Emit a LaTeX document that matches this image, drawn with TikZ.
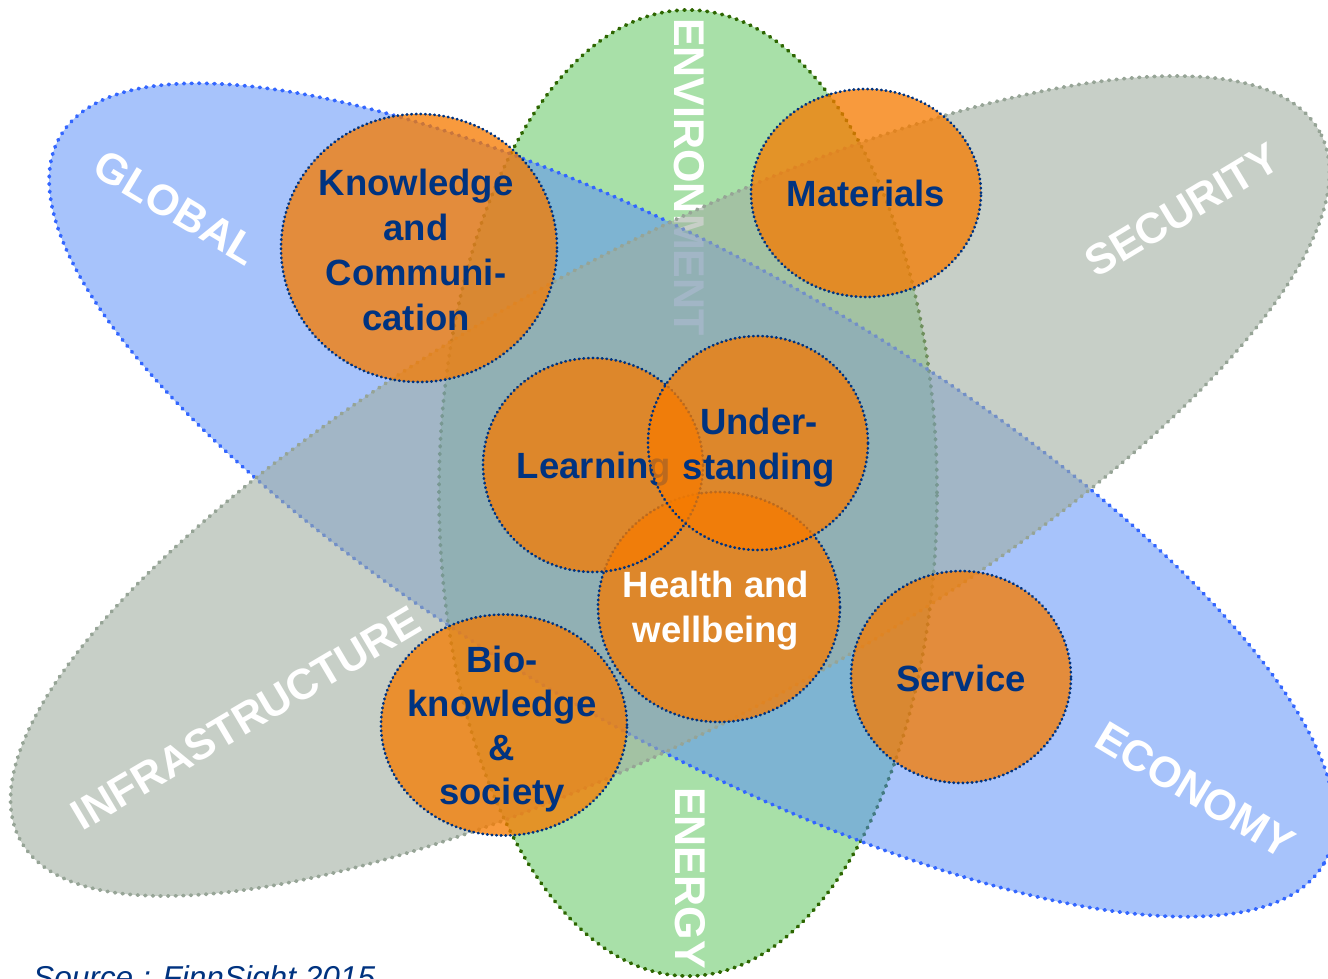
\documentclass[tikz,border=0pt]{standalone}
\usepackage{fontspec}
\setmainfont{Liberation Sans}
\usetikzlibrary{shapes.geometric}
\definecolor{txtblue}{RGB}{0,51,128}
\definecolor{ellblue}{RGB}{88,141,249}
\definecolor{ellblueb}{RGB}{51,102,255}
\definecolor{ellgreen}{RGB}{168,224,168}
\definecolor{ellgreenb}{RGB}{45,102,0}
\definecolor{ellgray}{RGB}{160,174,160}
\definecolor{ellgrayb}{RGB}{150,164,150}
\definecolor{orng}{RGB}{246,123,0}
\tikzset{
  bigell/.style={ellipse, inner sep=0pt, line width=3.7pt, dash pattern=on 1pt off 6.6pt, line cap=round},
  circ/.style={ellipse, draw=txtblue, fill=orng, fill opacity=0.76, line width=2.7pt, dash pattern=on 0.6pt off 4pt, line cap=round, inner sep=0pt},
  ctext/.style={text=txtblue, font=\bfseries\fontsize{36.5}{45}\selectfont, align=center, inner sep=0pt},
  elabel/.style={text=white, font=\bfseries\fontsize{43}{43}\selectfont, inner sep=0pt},
}
\begin{document}
\begin{tikzpicture}[x=1pt,y=1pt]
\path[use as bounding box] (0,0) rectangle (1328,-978);
\fill[white] (0,0) rectangle (1328,-978);
\clip (0,0) rectangle (1328,-978);
% green vertical ellipse
\node[bigell, draw=ellgreenb, fill=ellgreen, minimum width=498pt, minimum height=966pt] (green) at (688,-493) {};
\node[elabel, rotate=-90] (env) at (689,-177) {ENVIRONMENT};
\node[elabel, rotate=-90] (energy) at (690,-878) {ENERGY};
% blue ellipse
\node[bigell, draw=ellblueb, fill=ellblue, fill opacity=0.52, minimum width=1458pt, minimum height=470pt, rotate=-29.9] (blue) at (692,-500) {};
\node[elabel, rotate=-31] (global) at (176,-208) {GLOBAL};
\node[elabel, rotate=-31] (economy) at (1195,-790) {ECONOMY};
% gray ellipse
\node[bigell, draw=ellgrayb, fill=ellgray, fill opacity=0.58, minimum width=1480pt, minimum height=470pt, rotate=28.6] (gray) at (670,-486) {};
\node[elabel, rotate=30.6] (infra) at (246,-718) {INFRASTRUCTURE};
\node[elabel, rotate=31] (security) at (1182,-210) {SECURITY};
% circles
\node[circ, minimum width=276pt, minimum height=268pt] (know) at (419,-248) {};
\node[ctext] (knowt) at (416,-250) {Knowledge\\and\\Communi-\\cation};
\node[circ, minimum width=230pt, minimum height=208pt] (mat) at (866,-193) {};
\node[ctext] (matt) at (866,-193) {Materials};
\node[circ, minimum width=242pt, minimum height=230pt] (health) at (719,-607) {};
\node[ctext, text=white] (healtht) at (716,-611) {Health and\\wellbeing};
\node[circ, minimum width=220pt, minimum height=214pt] (learn) at (593,-465) {};
\node[ctext] (learnt) at (594,-469) {Learning};
\node[circ, minimum width=220pt, minimum height=214pt] (under) at (758,-443) {};
\node[ctext] (undert) at (759,-448) {Under-\\standing};
\node[circ, minimum width=246pt, minimum height=221pt] (bio) at (504,-725) {};
\node[ctext, font=\bfseries\fontsize{36.5}{44}\selectfont] (biot) at (502,-729) {Bio-\\knowledge\\\&\\society};
\node[circ, minimum width=220pt, minimum height=212pt] (serv) at (961,-677) {};
\node[ctext] (servt) at (961,-678) {Service};
% source
\node[anchor=base west, inner sep=0pt, text=txtblue, font=\itshape\fontsize{31.6}{36}\selectfont] (src) at (33,-988) {Source : FinnSight 2015};
\end{tikzpicture}
\end{document}
